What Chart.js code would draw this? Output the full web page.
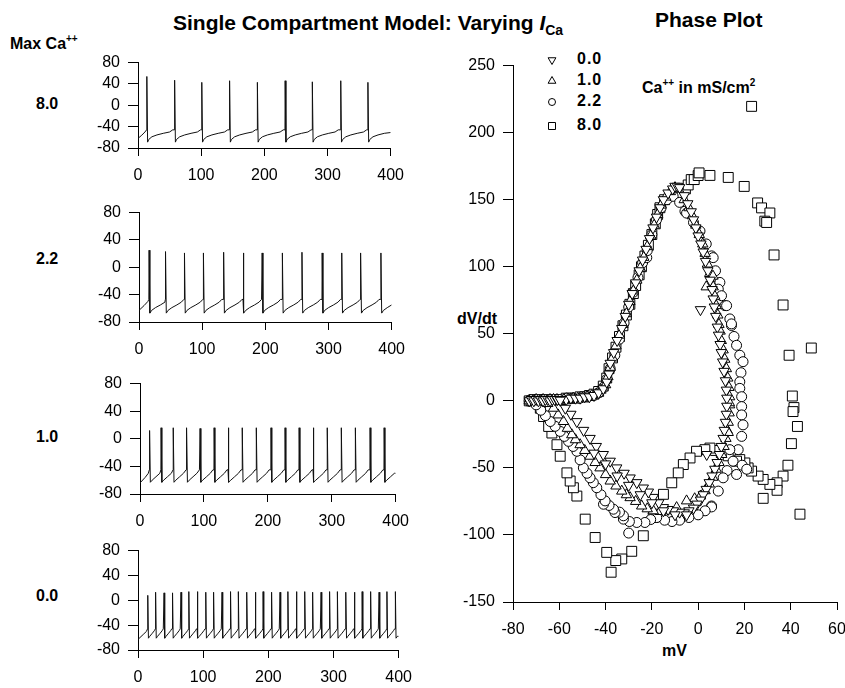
<!DOCTYPE html>
<html>
<head>
<meta charset="utf-8">
<script src="https://cdn.jsdelivr.net/npm/chart.js@4/dist/chart.umd.min.js"></script>
<style>
  body { margin: 0; width: 845px; height: 688px; overflow: hidden; background: #fff; position: relative;
         font-family: "Liberation Sans", Arial, Helvetica, sans-serif; color: #000; }
  canvas { position: absolute; }
  .t { position: absolute; font-weight: bold; white-space: nowrap; line-height: 1; }
  .sup { font-size: 10px; position: relative; top: -7px; }
  .sub { font-size: 14px; position: relative; top: 5px; }
</style>
</head>
<body>
<div class="t" style="left:173px;top:12px;font-size:21px">Single Compartment Model: Varying <i>I</i><span class="sub">Ca</span></div>
<div class="t" style="left:655px;top:9px;font-size:21px">Phase Plot</div>
<div class="t" style="left:10px;top:36px;font-size:16px">Max Ca<span class="sup">++</span></div>
<div class="t" style="left:36px;top:96px;font-size:16px">8.0</div>
<div class="t" style="left:36px;top:251px;font-size:16px">2.2</div>
<div class="t" style="left:36px;top:429px;font-size:16px">1.0</div>
<div class="t" style="left:36px;top:588px;font-size:16px">0.0</div>
<div class="t" style="left:577px;top:51px;font-size:16px;letter-spacing:1px">0.0</div>
<div class="t" style="left:577px;top:72px;font-size:16px;letter-spacing:1px">1.0</div>
<div class="t" style="left:577px;top:93px;font-size:16px;letter-spacing:1px">2.2</div>
<div class="t" style="left:577px;top:117px;font-size:16px;letter-spacing:1px">8.0</div>
<div class="t" style="left:642px;top:80px;font-size:16px">Ca<span class="sup">++</span> in mS/cm<span class="sup">2</span></div>
<div class="t" style="left:457px;top:311px;font-size:16px">dV/dt</div>
<div class="t" style="left:662px;top:643px;font-size:16px">mV</div>

<canvas id="p80" width="354" height="143" style="left:60px;top:45px"></canvas>
<canvas id="p22" width="354" height="167" style="left:61px;top:195px"></canvas>
<canvas id="p10" width="357" height="168" style="left:62px;top:366px"></canvas>
<canvas id="p00" width="362" height="157" style="left:60px;top:533px"></canvas>
<canvas id="phase" width="420" height="594" style="left:440px;top:48px"></canvas>

<script>
// tick labels
const timeTicks = [0, 100, 200, 300, 400];
const voltTicks = [-80, -40, 0, 40, 80];
const mvTicks = [-80, -60, -40, -20, 0, 20, 40, 60];
const dvdtTicks = [-150, -100, -50, 0, 50, 100, 150, 200, 250];

// spike trains (ms), spike peaks (mV), recovery shape after a spike (ms offset / mV)
const spikes80 = [14, 58, 101, 145, 189, 233, 276, 321, 364];
const peaks80 = [54, 47, 43, 46, 43, 46, 44, 46, 43];
const onset80 = [[0, -62], [6, -56], [11, -50], [13.6, -46]];
const rampT80 = [1.2, 3, 8, 16, 26, 36, 41];
const rampV80 = [-69, -64, -59, -55.5, -52.5, -50, -46];
const end80 = -51;

const spikes22 = [16, 42, 72, 102, 134, 165, 195, 227, 258, 290, 321, 351, 383];
const peaks22 = [25, 23, 21, 21, 22, 21, 21, 21, 22, 21, 21, 21, 21];
const onset22 = [[0, -63], [8, -56], [14, -50], [15.6, -47]];
const rampT22 = [1.2, 4, 10, 18, 25, 29];
const rampV22 = [-67, -63, -59, -55, -51, -47];
const end22 = -55;

const spikes10 = [15, 33, 52, 73, 94, 116, 138, 160, 182, 205, 227, 249, 271, 293, 315, 337, 360, 382];
const peaks10 = [12, 16, 16, 16, 15, 16, 16, 16, 16, 16, 16, 16, 16, 16, 16, 16, 16, 16];
const onset10 = [[0, -64], [8, -56], [13, -50], [14.6, -45]];
const rampT10 = [1.2, 4, 10, 16, 20];
const rampV10 = [-63, -60, -55, -50, -45];
const end10 = -50;

const spikes00 = [15, 27, 40, 53, 66, 78, 91, 104, 116, 129, 142, 154, 167, 180, 192, 205,
                  218, 230, 243, 256, 268, 281, 294, 306, 319, 332, 344, 357, 370, 382, 395];
const peaks00 = [8, 13, 12, 12, 13, 14, 14, 13, 13, 13, 14, 14, 13, 13, 14, 13,
                 13, 14, 14, 14, 13, 13, 14, 14, 13, 13, 14, 14, 13, 14, 14];
const onset00 = [[0, -63], [8, -55], [13, -50], [14.6, -46]];
const rampT00 = [1, 3, 7, 10, 11.8];
const rampV00 = [-61, -58, -53, -49, -46];
const end00 = -58;

// phase plot points [mV, dV/dt]
const phase00 = [
  [-73,0],[-72,1],[-71,0],[-70,1],[-69,0],[-68,1],[-67,0],[-66,1],[-65,1],[-64,0],[-63,1],[-62,1],[-61,1],[-60.8,1],
  [-59,1],[-57,1],[-55,2],[-53,2],[-51,2],[-49,3],[-47,3],[-45,4],[-43,6],[-41,9],[-39.5,14],[-38.5,20],
  [-38,28],[-36.5,36],[-35,45],[-33,54],[-31.5,63],[-30,72],[-28.5,80],[-27,88],[-25.5,97],[-24,105],[-22.5,113],
  [-21,121],[-19.5,129],[-18,137],[-16.5,144],[-15,150],[-13,155],[-11,158],[-10,160],[-9,160],[-8,159],
  [-6,153],[-4.5,147],[-3,141],[-2,135],[-1,129],[0,123],[1.2,117],[2.2,111],[3.2,104],[4.2,97],[5.2,90],[6,83],
  [6.5,76],[1,68],[7,70],[7.6,63],[8.3,55],[8.8,49],[9.5,42],[10,36],[10.6,29],[11.2,22],[11.8,15],[12.2,8],
  [12.4,2],[12.4,-4],[12.2,-10],[11.8,-16],[11.3,-22],[10.8,-28],[10,-34],[9.2,-40],[8.2,-46],[7.2,-51],[6,-56],
  [4.8,-61],[3.5,-66],[2.2,-70],[1,-74],[-0.5,-77],[-2,-80],[-4,-82],[-6,-83.5],[-8,-83],[3.7,-40],
  [-10.7,-82],[-13,-81],[-15,-79.6],[-17,-76],[-19.4,-72],[-21.5,-68],[-23.7,-65],[-26.5,-61],[-29.4,-57.5],
  [-32,-54],[-35.2,-50],[-38,-45],[-41,-40],[-44,-34],[-46.7,-28],[-49.5,-22],[-52.4,-15.5],[-55,-10],
  [-57.4,-5.5],[-59.6,0.5],[-25,-70],[-20,-76],[-15,-82],[-30,-63],[-35,-56],[-40,-47],[-45,-39],[-10,-85],[-5,-85]
];
const phase10 = [
  [-73,0],[-71.5,0],[-70,1],[-68.5,0],[-67,1],[-65.5,0],[-64,1],[-62.5,1],[-61,1],[-58,1],[-56,1],[-54,2],[-52,2],
  [-50,2],[-48,3],[-46,4],[-44,5],[-42,8],[-40,12],[-39,18],
  [-38,25],[-37,32],[-35.5,41],[-34,49],[-32.5,57],[-31,65],[-29.5,74],[-28,82],[-26.5,90],[-25,99],[-23.5,107],
  [-22,115],[-20.5,123],[-19,131],[-17.5,139],[-16,146],[-14,152],[-12,156],[-10,159],[-8.5,158],
  [-6,150],[-4,144],[-2.5,138],[-1,131],[0.5,124],[2,117],[3,110],[4,102],[5,95],[6.4,93],[3.5,85],[6.5,85],
  [7.2,78],[7.8,71],[8.5,64],[9,57],[9.5,52],[10,45],[10.8,38],[11.5,31],[12.2,24],[12.8,17],[13.3,10],[13.6,3],
  [13.6,-3],[13.4,-9],[13,-16],[12.6,-22],[12,-28],[11.2,-34],[10.2,-40],[9,-46],[7.8,-51],[6.3,-57],[4.8,-62],
  [3,-67],[1,-71],[-1.5,-73],[-5,-74.6],[13,-23.6],[13.5,-1.4],
  [-9.3,-79.6],[-13.6,-82],[-16.5,-82.5],[-19.4,-82],[-22,-80.5],[-24.4,-78.4],[-27,-75],[-29.4,-72.2],[-31,-70],
  [-33,-67.3],[-35.5,-63.5],[-38,-59.8],[-40,-55],[-42.4,-50],[-44.5,-46],[-46.7,-41.3],[-49,-37],[-51,-32.7],
  [-53,-29],[-54.6,-25.3],[-56.5,-20.5],[-58.2,-15.4],[-60.5,-10.5],[-62.5,-5.5],[-65,-2]
];
const phase22 = [
  [-73,0],[-72,1],[-71,0],[-70,0],[-69,1],[-68,0],[-66,1],[-64,1],[-62,1],[-60,1],[-57,2],[-54,2],[-51,2],[-48,3],
  [-45,4],[-43,6],[-41,10],[-39.5,16],
  [-38,24],[-36,34],[-34,46],[-32,58],[-30,70],[-28,81],[-26,92],[-24,103],[-22.2,106.8],[-22,112],[-20,124],
  [-18,135],[-16,144],[-13.5,150],[-10.8,152.5],[-8,148],[-5.7,141.4],[-5,140],[-2,133],[0.8,126.6],[3.5,117],
  [5.8,108.1],[6.5,106.8],[7.5,97],[8.7,87],[9.4,88.3],[8.7,83.3],[10.1,78.4],[11.6,71],[12.3,71],[13.7,61.1],
  [14.4,56.2],[14.4,57.4],[15.5,48],[16.6,41.4],[18,34],[19.4,29.2],[18.5,21],[18,14.2],[18,9.3],[18.8,3.1],
  [18.8,-4.3],[18.8,-10.5],[19.4,-17.9],[18.8,-26.5],[17.3,-36.4],[15.1,-45],[13.7,-36.4],[16.6,-54.9],[12.5,-52],
  [10.8,-57.4],[8.7,-67.3],[5.8,-78.4],[5.8,-79.1],[3,-82],[19,-48],[21,-51],
  [0,-85],[-4,-87],[-8,-89],[-11.3,-90],[-14.5,-89],[-17.9,-87],[-20.5,-88.5],[-23,-90.7],[-26.5,-90.7],
  [-29.7,-90],[-30,-98.6],[-32.3,-88.2],[-32.3,-85.7],[-34,-83],[-35.9,-83.3],[-36.6,-80.8],[-38.5,-78],
  [-40.9,-77.1],[-40.2,-74.6],[-42,-70],[-43.8,-64.8],[-45.3,-61],[-46.7,-57.4],[-48,-54],[-49.6,-50],[-51,-44],
  [-52.4,-37.6],[-54,-34],[-56,-30.2],[-57.8,-26.5],[-59.6,-22.8],[-61.8,-19],[-63.9,-15.4],[-66,-11],[-68,-7],[-70,-3]
];
const phase80 = [
  [-73,0],[-72,0],[-71,1],[-70,0],[-69,1],[-68,0],[-67,1],[-65,1],[-63,1],[-61,1],[-59,1],[-57,2],[-55,2],[-53,2],
  [-51,3],[-49,3],[-47,4],[-45,5],[-43,7],[-41,11],[-39.5,17],
  [-38.5,24],[-37,32],[-35.5,40],[-34,48],[-32.5,56],[-31,64],[-29.5,72],[-28,80],[-27,86],[-25.5,94],[-24.5,100],
  [-23,108],[-21.5,116],[-20,124],[-18.5,132],[-17.5,139],[-16.5,144],[-14.5,150],[-7,155],[-5.5,158],[-4.3,161],
  [-3,165],[-1.7,165],[0,168],[0.4,170],[5.1,168.1],[13,166.6],[19.9,159.9],[25.7,147.6],[27.4,143.9],[31,140.1],
  [28.8,134],[29.6,133],[32.8,108.8],[36.7,71.5],[48.9,39.4],[39.3,34],[40.7,3.6],[41.4,-5],[41,-8],[42.9,-19.1],
  [40.3,-31.9],[38.8,-48],[36.7,-56.1],[34.1,-61.1],[34.1,-66.7],[31,-62.3],[28.1,-58.6],[25.9,-56.1],[23.1,-52.4],
  [21.6,-50],[20.2,-46.3],[18,-43.8],[16.6,-45],[28.1,-72.7],[44,-84.5],[23.1,219.6],
  [13,-41],[10,-38.5],[7.5,-37],[5.1,-35.2],[2.9,-36.4],[-0.7,-37.6],[-3.5,-42.6],[-6.4,-47.5],[-8.6,-53.7],
  [-11.4,-61.1],[-15,-69.7],[-16.5,-84.5],[-19.4,-87],[-23.7,-100.6],[-28.7,-112.2],[-33,-117.9],[-35.6,-119.1],
  [-37.6,-127.8],[-39.5,-113],[-44.5,-101.9],[-48.8,-88.2],[-52.4,-71],[-53.9,-64.8],[-55.3,-59.8],[-56.7,-53.7],
  [-59.6,-41.3],[-61,-32.7],[-63.2,-24],[-64.6,-19.1],[-66.8,-11.7],[-68.2,-5.5]
];

const FONT = '"Liberation Sans", Arial, Helvetica, sans-serif';

function buildTrace(onset, spikes, peaks, rampT, rampV, endV) {
  var pts = onset.map(function (p) { return { x: p[0], y: p[1] }; });
  spikes.forEach(function (t, i) {
    var next = i + 1 < spikes.length ? spikes[i + 1] : 400;
    pts.push({ x: t, y: peaks[i] });
    rampT.forEach(function (dt, j) {
      if (t + dt < next - 0.4 && t + dt < 400) pts.push({ x: t + dt, y: rampV[j] });
    });
    if (i + 1 < spikes.length) pts.push({ x: next - 0.3, y: rampV[rampV.length - 1] });
  });
  pts.push({ x: 400, y: endV });
  return pts;
}

function xAxis(min, max, ticks, h) {
  return {
    type: 'linear', position: 'bottom', min: min, max: max,
    afterBuildTicks: function (s) { s.ticks = ticks.map(function (v) { return { value: v }; }); },
    afterFit: function (s) { s.height = h; },
    grid: { display: true, drawOnChartArea: false, drawTicks: true, tickLength: 8, color: '#000', lineWidth: 1 },
    border: { display: true, color: '#000', width: 1 },
    ticks: { color: '#000', font: { size: 16, family: FONT }, padding: 10, maxRotation: 0, autoSkip: false }
  };
}

function yAxis(min, max, ticks, w) {
  return {
    type: 'linear', position: 'left', min: min, max: max,
    afterBuildTicks: function (s) { s.ticks = ticks.map(function (v) { return { value: v }; }); },
    afterFit: function (s) { s.width = w; },
    grid: { display: true, drawOnChartArea: false, drawTicks: true, tickLength: 10, color: '#000', lineWidth: 1 },
    border: { display: true, color: '#000', width: 1 },
    ticks: { color: '#000', font: { size: 16, family: FONT }, padding: 8, autoSkip: false }
  };
}

function traceChart(id, pts) {
  new Chart(document.getElementById(id), {
    type: 'line',
    data: { datasets: [{ data: pts, borderColor: '#111', borderWidth: 1, pointRadius: 0, tension: 0, fill: false }] },
    options: {
      responsive: false, animation: false, devicePixelRatio: 1,
      layout: { padding: { top: 12, right: 22, bottom: 0, left: 0 } },
      plugins: { legend: { display: false }, tooltip: { enabled: false } },
      scales: { x: xAxis(0, 400, timeTicks, 40), y: yAxis(-80, 80, voltTicks, 78) }
    }
  });
}

traceChart('p80', buildTrace(onset80, spikes80, peaks80, rampT80, rampV80, end80));
traceChart('p22', buildTrace(onset22, spikes22, peaks22, rampT22, rampV22, end22));
traceChart('p10', buildTrace(onset10, spikes10, peaks10, rampT10, rampV10, end10));
traceChart('p00', buildTrace(onset00, spikes00, peaks00, rampT00, rampV00, end00));

// legend symbols, drawn next to the html labels
const legendMarks = {
  id: 'legendMarks',
  afterDraw: function (chart) {
    var ctx = chart.ctx;
    var x = 552 - 440;
    ctx.save();
    ctx.strokeStyle = '#000';
    ctx.fillStyle = '#fff';
    ctx.lineWidth = 1;
    // down triangle
    var y = 60 - 48, r = 4.5;
    ctx.beginPath(); ctx.moveTo(x, y + r); ctx.lineTo(x - r * 0.866, y - r / 2); ctx.lineTo(x + r * 0.866, y - r / 2); ctx.closePath(); ctx.fill(); ctx.stroke();
    // up triangle
    y = 81 - 48;
    ctx.beginPath(); ctx.moveTo(x, y - r); ctx.lineTo(x - r * 0.866, y + r / 2); ctx.lineTo(x + r * 0.866, y + r / 2); ctx.closePath(); ctx.fill(); ctx.stroke();
    // circle
    y = 102 - 48;
    ctx.beginPath(); ctx.arc(x, y, 3.5, 0, Math.PI * 2); ctx.fill(); ctx.stroke();
    // square
    y = 126 - 48;
    ctx.beginPath(); ctx.rect(x - 3.5, y - 3.5, 7, 7); ctx.fill(); ctx.stroke();
    ctx.restore();
  }
};

function toXY(arr) { return arr.map(function (p) { return { x: p[0], y: p[1] }; }); }

function markerSet(arr, style, radius, rot) {
  return {
    data: toXY(arr), showLine: false,
    pointStyle: style, pointRadius: radius, pointRotation: rot,
    pointBackgroundColor: '#fff', pointBorderColor: '#000', pointBorderWidth: 1
  };
}

new Chart(document.getElementById('phase'), {
  type: 'scatter',
  data: {
    datasets: [
      markerSet(phase00, 'triangle', 6, 180),
      markerSet(phase10, 'triangle', 6, 0),
      markerSet(phase22, 'circle', 5, 0),
      markerSet(phase80, 'rect', 7, 0)
    ]
  },
  options: {
    responsive: false, animation: false, devicePixelRatio: 1,
    layout: { padding: { top: 14, right: 23, bottom: 0, left: 0 } },
    plugins: { legend: { display: false }, tooltip: { enabled: false } },
    scales: { x: xAxis(-80, 60, mvTicks, 40), y: yAxis(-150, 250, dvdtTicks, 73) }
  },
  plugins: [legendMarks]
});
</script>
</body>
</html>
